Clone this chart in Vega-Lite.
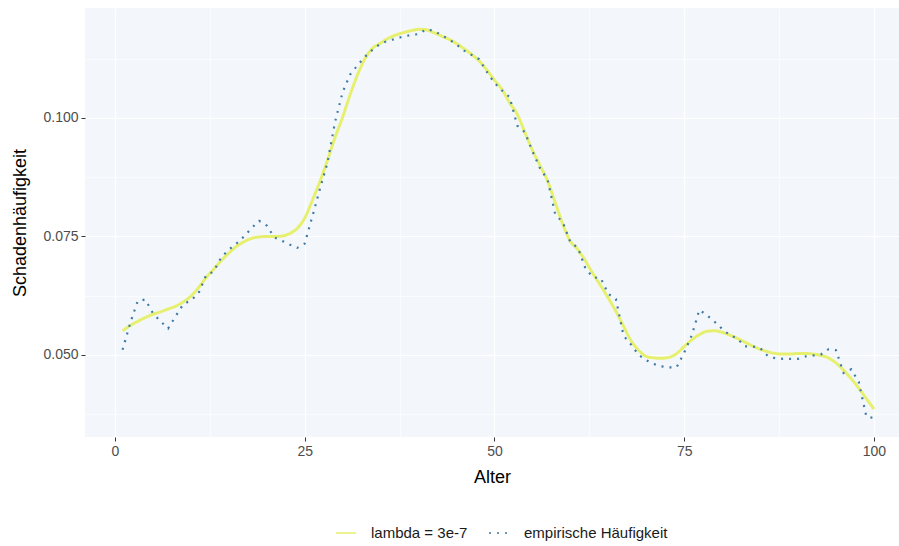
{
  "$schema": "https://vega.github.io/schema/vega-lite/v6.json",
  "autosize": {"type": "none"},
  "padding": {"left": 85, "top": 8, "right": 0, "bottom": 109},
  "width": 814,
  "height": 429,
  "background": "white",
  "config": {
    "font": "Liberation Sans",
    "view": {"fill": "#F3F7FC", "stroke": null},
    "axis": {
      "domain": false,
      "gridColor": "white",
      "gridOpacity": 1,
      "tickColor": "#333333",
      "tickSize": 4,
      "labelColor": "#4D4D4D",
      "labelFontSize": 14,
      "labelFont": "Liberation Sans",
      "titleFont": "Liberation Sans",
      "titleFontSize": 18,
      "titleFontWeight": "normal",
      "titleColor": "black"
    }
  },
  "datasets": {
    "smooth": [
      {"Alter":1,"Wert":0.0551,"Reihe":"lambda = 3e-7"},{"Alter":2,"Wert":0.0562,"Reihe":"lambda = 3e-7"},{"Alter":3,"Wert":0.0571,"Reihe":"lambda = 3e-7"},{"Alter":4,"Wert":0.0579,"Reihe":"lambda = 3e-7"},{"Alter":5,"Wert":0.0586,"Reihe":"lambda = 3e-7"},
      {"Alter":6,"Wert":0.0591,"Reihe":"lambda = 3e-7"},{"Alter":7,"Wert":0.0597,"Reihe":"lambda = 3e-7"},{"Alter":8,"Wert":0.0603,"Reihe":"lambda = 3e-7"},{"Alter":9,"Wert":0.0612,"Reihe":"lambda = 3e-7"},{"Alter":10,"Wert":0.0624,"Reihe":"lambda = 3e-7"},
      {"Alter":11,"Wert":0.0642,"Reihe":"lambda = 3e-7"},{"Alter":12,"Wert":0.0663,"Reihe":"lambda = 3e-7"},{"Alter":13,"Wert":0.0681,"Reihe":"lambda = 3e-7"},{"Alter":14,"Wert":0.0699,"Reihe":"lambda = 3e-7"},{"Alter":15,"Wert":0.0715,"Reihe":"lambda = 3e-7"},
      {"Alter":16,"Wert":0.0729,"Reihe":"lambda = 3e-7"},{"Alter":17,"Wert":0.0739,"Reihe":"lambda = 3e-7"},{"Alter":18,"Wert":0.0746,"Reihe":"lambda = 3e-7"},{"Alter":19,"Wert":0.0749,"Reihe":"lambda = 3e-7"},{"Alter":20,"Wert":0.0750,"Reihe":"lambda = 3e-7"},
      {"Alter":21,"Wert":0.0750,"Reihe":"lambda = 3e-7"},{"Alter":22,"Wert":0.0751,"Reihe":"lambda = 3e-7"},{"Alter":23,"Wert":0.0756,"Reihe":"lambda = 3e-7"},{"Alter":24,"Wert":0.0767,"Reihe":"lambda = 3e-7"},{"Alter":25,"Wert":0.0789,"Reihe":"lambda = 3e-7"},
      {"Alter":26,"Wert":0.0826,"Reihe":"lambda = 3e-7"},{"Alter":27,"Wert":0.0866,"Reihe":"lambda = 3e-7"},{"Alter":28,"Wert":0.0911,"Reihe":"lambda = 3e-7"},{"Alter":29,"Wert":0.0959,"Reihe":"lambda = 3e-7"},{"Alter":30,"Wert":0.1002,"Reihe":"lambda = 3e-7"},
      {"Alter":31,"Wert":0.1050,"Reihe":"lambda = 3e-7"},{"Alter":32,"Wert":0.1093,"Reihe":"lambda = 3e-7"},{"Alter":33,"Wert":0.1127,"Reihe":"lambda = 3e-7"},{"Alter":34,"Wert":0.1148,"Reihe":"lambda = 3e-7"},{"Alter":35,"Wert":0.1158,"Reihe":"lambda = 3e-7"},
      {"Alter":36,"Wert":0.1168,"Reihe":"lambda = 3e-7"},{"Alter":37,"Wert":0.1175,"Reihe":"lambda = 3e-7"},{"Alter":38,"Wert":0.1180,"Reihe":"lambda = 3e-7"},{"Alter":39,"Wert":0.1184,"Reihe":"lambda = 3e-7"},{"Alter":40,"Wert":0.1187,"Reihe":"lambda = 3e-7"},
      {"Alter":41,"Wert":0.1186,"Reihe":"lambda = 3e-7"},{"Alter":42,"Wert":0.1180,"Reihe":"lambda = 3e-7"},{"Alter":43,"Wert":0.1173,"Reihe":"lambda = 3e-7"},{"Alter":44,"Wert":0.1166,"Reihe":"lambda = 3e-7"},{"Alter":45,"Wert":0.1157,"Reihe":"lambda = 3e-7"},
      {"Alter":46,"Wert":0.1146,"Reihe":"lambda = 3e-7"},{"Alter":47,"Wert":0.1134,"Reihe":"lambda = 3e-7"},{"Alter":48,"Wert":0.1120,"Reihe":"lambda = 3e-7"},{"Alter":49,"Wert":0.1101,"Reihe":"lambda = 3e-7"},{"Alter":50,"Wert":0.1080,"Reihe":"lambda = 3e-7"},
      {"Alter":51,"Wert":0.1060,"Reihe":"lambda = 3e-7"},{"Alter":52,"Wert":0.1032,"Reihe":"lambda = 3e-7"},{"Alter":53,"Wert":0.1008,"Reihe":"lambda = 3e-7"},{"Alter":54,"Wert":0.0970,"Reihe":"lambda = 3e-7"},{"Alter":55,"Wert":0.0932,"Reihe":"lambda = 3e-7"},
      {"Alter":56,"Wert":0.0900,"Reihe":"lambda = 3e-7"},{"Alter":57,"Wert":0.0867,"Reihe":"lambda = 3e-7"},{"Alter":58,"Wert":0.0822,"Reihe":"lambda = 3e-7"},{"Alter":59,"Wert":0.0776,"Reihe":"lambda = 3e-7"},{"Alter":60,"Wert":0.0740,"Reihe":"lambda = 3e-7"},
      {"Alter":61,"Wert":0.0722,"Reihe":"lambda = 3e-7"},{"Alter":62,"Wert":0.0698,"Reihe":"lambda = 3e-7"},{"Alter":63,"Wert":0.0671,"Reihe":"lambda = 3e-7"},{"Alter":64,"Wert":0.0646,"Reihe":"lambda = 3e-7"},{"Alter":65,"Wert":0.0620,"Reihe":"lambda = 3e-7"},
      {"Alter":66,"Wert":0.0592,"Reihe":"lambda = 3e-7"},{"Alter":67,"Wert":0.0561,"Reihe":"lambda = 3e-7"},{"Alter":68,"Wert":0.0530,"Reihe":"lambda = 3e-7"},{"Alter":69,"Wert":0.0510,"Reihe":"lambda = 3e-7"},{"Alter":70,"Wert":0.0497,"Reihe":"lambda = 3e-7"},
      {"Alter":71,"Wert":0.0494,"Reihe":"lambda = 3e-7"},{"Alter":72,"Wert":0.0493,"Reihe":"lambda = 3e-7"},{"Alter":73,"Wert":0.0495,"Reihe":"lambda = 3e-7"},{"Alter":74,"Wert":0.0503,"Reihe":"lambda = 3e-7"},{"Alter":75,"Wert":0.0518,"Reihe":"lambda = 3e-7"},
      {"Alter":76,"Wert":0.0532,"Reihe":"lambda = 3e-7"},{"Alter":77,"Wert":0.0543,"Reihe":"lambda = 3e-7"},{"Alter":78,"Wert":0.0550,"Reihe":"lambda = 3e-7"},{"Alter":79,"Wert":0.0551,"Reihe":"lambda = 3e-7"},{"Alter":80,"Wert":0.0548,"Reihe":"lambda = 3e-7"},
      {"Alter":81,"Wert":0.0542,"Reihe":"lambda = 3e-7"},{"Alter":82,"Wert":0.0535,"Reihe":"lambda = 3e-7"},{"Alter":83,"Wert":0.0527,"Reihe":"lambda = 3e-7"},{"Alter":84,"Wert":0.0519,"Reihe":"lambda = 3e-7"},{"Alter":85,"Wert":0.0512,"Reihe":"lambda = 3e-7"},
      {"Alter":86,"Wert":0.0507,"Reihe":"lambda = 3e-7"},{"Alter":87,"Wert":0.0503,"Reihe":"lambda = 3e-7"},{"Alter":88,"Wert":0.0502,"Reihe":"lambda = 3e-7"},{"Alter":89,"Wert":0.0502,"Reihe":"lambda = 3e-7"},{"Alter":90,"Wert":0.0503,"Reihe":"lambda = 3e-7"},
      {"Alter":91,"Wert":0.0503,"Reihe":"lambda = 3e-7"},{"Alter":92,"Wert":0.0502,"Reihe":"lambda = 3e-7"},{"Alter":93,"Wert":0.0499,"Reihe":"lambda = 3e-7"},{"Alter":94,"Wert":0.0494,"Reihe":"lambda = 3e-7"},{"Alter":95,"Wert":0.0483,"Reihe":"lambda = 3e-7"},
      {"Alter":96,"Wert":0.0468,"Reihe":"lambda = 3e-7"},{"Alter":97,"Wert":0.0450,"Reihe":"lambda = 3e-7"},{"Alter":98,"Wert":0.0430,"Reihe":"lambda = 3e-7"},{"Alter":99,"Wert":0.0408,"Reihe":"lambda = 3e-7"},{"Alter":100,"Wert":0.0386,"Reihe":"lambda = 3e-7"}
    ],
    "emp": [
      {"Alter":1,"Wert":0.0511,"Reihe":"empirische Häufigkeit"},{"Alter":2,"Wert":0.0567,"Reihe":"empirische Häufigkeit"},{"Alter":3,"Wert":0.0614,"Reihe":"empirische Häufigkeit"},{"Alter":4,"Wert":0.0617,"Reihe":"empirische Häufigkeit"},{"Alter":5,"Wert":0.0588,"Reihe":"empirische Häufigkeit"},
      {"Alter":6,"Wert":0.0571,"Reihe":"empirische Häufigkeit"},{"Alter":7,"Wert":0.0556,"Reihe":"empirische Häufigkeit"},{"Alter":8,"Wert":0.0582,"Reihe":"empirische Häufigkeit"},{"Alter":9,"Wert":0.0607,"Reihe":"empirische Häufigkeit"},{"Alter":10,"Wert":0.0615,"Reihe":"empirische Häufigkeit"},
      {"Alter":11,"Wert":0.0630,"Reihe":"empirische Häufigkeit"},{"Alter":12,"Wert":0.0668,"Reihe":"empirische Häufigkeit"},{"Alter":13,"Wert":0.0676,"Reihe":"empirische Häufigkeit"},{"Alter":14,"Wert":0.0706,"Reihe":"empirische Häufigkeit"},{"Alter":15,"Wert":0.0722,"Reihe":"empirische Häufigkeit"},
      {"Alter":16,"Wert":0.0735,"Reihe":"empirische Häufigkeit"},{"Alter":17,"Wert":0.0750,"Reihe":"empirische Häufigkeit"},{"Alter":18,"Wert":0.0768,"Reihe":"empirische Häufigkeit"},{"Alter":19,"Wert":0.0783,"Reihe":"empirische Häufigkeit"},{"Alter":20,"Wert":0.0773,"Reihe":"empirische Häufigkeit"},
      {"Alter":21,"Wert":0.0748,"Reihe":"empirische Häufigkeit"},{"Alter":22,"Wert":0.0741,"Reihe":"empirische Häufigkeit"},{"Alter":23,"Wert":0.0733,"Reihe":"empirische Häufigkeit"},{"Alter":24,"Wert":0.0726,"Reihe":"empirische Häufigkeit"},{"Alter":25,"Wert":0.0735,"Reihe":"empirische Häufigkeit"},
      {"Alter":26,"Wert":0.0792,"Reihe":"empirische Häufigkeit"},{"Alter":27,"Wert":0.0850,"Reihe":"empirische Häufigkeit"},{"Alter":28,"Wert":0.0906,"Reihe":"empirische Häufigkeit"},{"Alter":29,"Wert":0.0992,"Reihe":"empirische Häufigkeit"},{"Alter":30,"Wert":0.1055,"Reihe":"empirische Häufigkeit"},
      {"Alter":31,"Wert":0.1092,"Reihe":"empirische Häufigkeit"},{"Alter":32,"Wert":0.1112,"Reihe":"empirische Häufigkeit"},{"Alter":33,"Wert":0.1130,"Reihe":"empirische Häufigkeit"},{"Alter":34,"Wert":0.1145,"Reihe":"empirische Häufigkeit"},{"Alter":35,"Wert":0.1157,"Reihe":"empirische Häufigkeit"},
      {"Alter":36,"Wert":0.1163,"Reihe":"empirische Häufigkeit"},{"Alter":37,"Wert":0.1167,"Reihe":"empirische Häufigkeit"},{"Alter":38,"Wert":0.1172,"Reihe":"empirische Häufigkeit"},{"Alter":39,"Wert":0.1175,"Reihe":"empirische Häufigkeit"},{"Alter":40,"Wert":0.1177,"Reihe":"empirische Häufigkeit"},
      {"Alter":41,"Wert":0.1187,"Reihe":"empirische Häufigkeit"},{"Alter":42,"Wert":0.1184,"Reihe":"empirische Häufigkeit"},{"Alter":43,"Wert":0.1175,"Reihe":"empirische Häufigkeit"},{"Alter":44,"Wert":0.1166,"Reihe":"empirische Häufigkeit"},{"Alter":45,"Wert":0.1155,"Reihe":"empirische Häufigkeit"},
      {"Alter":46,"Wert":0.1142,"Reihe":"empirische Häufigkeit"},{"Alter":47,"Wert":0.1133,"Reihe":"empirische Häufigkeit"},{"Alter":48,"Wert":0.1124,"Reihe":"empirische Häufigkeit"},{"Alter":49,"Wert":0.1097,"Reihe":"empirische Häufigkeit"},{"Alter":50,"Wert":0.1074,"Reihe":"empirische Häufigkeit"},
      {"Alter":51,"Wert":0.1058,"Reihe":"empirische Häufigkeit"},{"Alter":52,"Wert":0.1044,"Reihe":"empirische Häufigkeit"},{"Alter":53,"Wert":0.0984,"Reihe":"empirische Häufigkeit"},{"Alter":54,"Wert":0.0970,"Reihe":"empirische Häufigkeit"},{"Alter":55,"Wert":0.0930,"Reihe":"empirische Häufigkeit"},
      {"Alter":56,"Wert":0.0894,"Reihe":"empirische Häufigkeit"},{"Alter":57,"Wert":0.0870,"Reihe":"empirische Häufigkeit"},{"Alter":58,"Wert":0.0797,"Reihe":"empirische Häufigkeit"},{"Alter":59,"Wert":0.0780,"Reihe":"empirische Häufigkeit"},{"Alter":60,"Wert":0.0738,"Reihe":"empirische Häufigkeit"},
      {"Alter":61,"Wert":0.0726,"Reihe":"empirische Häufigkeit"},{"Alter":62,"Wert":0.0682,"Reihe":"empirische Häufigkeit"},{"Alter":63,"Wert":0.0664,"Reihe":"empirische Häufigkeit"},{"Alter":64,"Wert":0.0662,"Reihe":"empirische Häufigkeit"},{"Alter":65,"Wert":0.0629,"Reihe":"empirische Häufigkeit"},
      {"Alter":66,"Wert":0.0618,"Reihe":"empirische Häufigkeit"},{"Alter":67,"Wert":0.0541,"Reihe":"empirische Häufigkeit"},{"Alter":68,"Wert":0.0522,"Reihe":"empirische Häufigkeit"},{"Alter":69,"Wert":0.0500,"Reihe":"empirische Häufigkeit"},{"Alter":70,"Wert":0.0489,"Reihe":"empirische Häufigkeit"},
      {"Alter":71,"Wert":0.0481,"Reihe":"empirische Häufigkeit"},{"Alter":72,"Wert":0.0476,"Reihe":"empirische Häufigkeit"},{"Alter":73,"Wert":0.0474,"Reihe":"empirische Häufigkeit"},{"Alter":74,"Wert":0.0474,"Reihe":"empirische Häufigkeit"},{"Alter":75,"Wert":0.0505,"Reihe":"empirische Häufigkeit"},
      {"Alter":76,"Wert":0.0542,"Reihe":"empirische Häufigkeit"},{"Alter":77,"Wert":0.0595,"Reihe":"empirische Häufigkeit"},{"Alter":78,"Wert":0.0584,"Reihe":"empirische Häufigkeit"},{"Alter":79,"Wert":0.0570,"Reihe":"empirische Häufigkeit"},{"Alter":80,"Wert":0.0555,"Reihe":"empirische Häufigkeit"},
      {"Alter":81,"Wert":0.0542,"Reihe":"empirische Häufigkeit"},{"Alter":82,"Wert":0.0535,"Reihe":"empirische Häufigkeit"},{"Alter":83,"Wert":0.0518,"Reihe":"empirische Häufigkeit"},{"Alter":84,"Wert":0.0518,"Reihe":"empirische Häufigkeit"},{"Alter":85,"Wert":0.0515,"Reihe":"empirische Häufigkeit"},
      {"Alter":86,"Wert":0.0498,"Reihe":"empirische Häufigkeit"},{"Alter":87,"Wert":0.0493,"Reihe":"empirische Häufigkeit"},{"Alter":88,"Wert":0.0492,"Reihe":"empirische Häufigkeit"},{"Alter":89,"Wert":0.0492,"Reihe":"empirische Häufigkeit"},{"Alter":90,"Wert":0.0492,"Reihe":"empirische Häufigkeit"},
      {"Alter":91,"Wert":0.0497,"Reihe":"empirische Häufigkeit"},{"Alter":92,"Wert":0.0499,"Reihe":"empirische Häufigkeit"},{"Alter":93,"Wert":0.0501,"Reihe":"empirische Häufigkeit"},{"Alter":94,"Wert":0.0512,"Reihe":"empirische Häufigkeit"},{"Alter":95,"Wert":0.0510,"Reihe":"empirische Häufigkeit"},
      {"Alter":96,"Wert":0.0462,"Reihe":"empirische Häufigkeit"},{"Alter":97,"Wert":0.0470,"Reihe":"empirische Häufigkeit"},{"Alter":98,"Wert":0.0443,"Reihe":"empirische Häufigkeit"},{"Alter":99,"Wert":0.0370,"Reihe":"empirische Häufigkeit"},{"Alter":100,"Wert":0.0367,"Reihe":"empirische Häufigkeit"}
    ]
  },
  "encoding": {
    "x": {
      "field": "Alter", "type": "quantitative",
      "scale": {"domain": [-3.95, 103.3], "nice": false, "zero": false},
      "axis": {
        "title": "Alter",
        "titleFontWeight": "normal",
        "titleFontSize": 18,
        "values": [0, 12.5, 25, 37.5, 50, 62.5, 75, 87.5, 100],
        "labelExpr": "datum.value % 25 == 0 ? datum.label : ''",
        "labelPadding": 3,
        "titlePadding": 10,
        "gridWidth": {"condition": {"test": "datum.value % 25 != 0", "value": 0.6}, "value": 1.2},
        "tickOpacity": {"condition": {"test": "datum.value % 25 != 0", "value": 0}, "value": 1}
      }
    },
    "y": {
      "field": "Wert", "type": "quantitative",
      "scale": {"domain": [0.0327, 0.1232], "nice": false, "zero": false},
      "axis": {
        "title": "Schadenhäufigkeit",
        "titleFontWeight": "normal",
        "titleFontSize": 18,
        "values": [0.0375, 0.05, 0.0625, 0.075, 0.0875, 0.1, 0.1125],
        "format": ".3f",
        "labelExpr": "abs(datum.value * 40 - round(datum.value * 40)) < 0.001 ? datum.label : ''",
        "labelPadding": 3,
        "titlePadding": 13,
        "gridWidth": {"condition": {"test": "abs(datum.value * 40 - round(datum.value * 40)) > 0.001", "value": 0.6}, "value": 1.2},
        "tickOpacity": {"condition": {"test": "abs(datum.value * 40 - round(datum.value * 40)) > 0.001", "value": 0}, "value": 1}
      }
    },
    "color": {
      "field": "Reihe", "type": "nominal",
      "scale": {"domain": ["lambda = 3e-7", "empirische Häufigkeit"], "range": ["#E6F06E", "#3F7AA6"]},
      "legend": {
        "title": null,
        "orient": "none",
        "direction": "horizontal",
        "legendX": 250,
        "legendY": 514,
        "symbolType": "stroke",
        "symbolSize": 400,
        "labelFontSize": 15,
        "labelColor": "#1A1A1A",
        "labelFont": "Liberation Sans",
        "labelOffset": 14,
        "columnPadding": 18,
        "labelLimit": 300
      }
    },
    "strokeDash": {
      "field": "Reihe", "type": "nominal",
      "scale": {"domain": ["lambda = 3e-7", "empirische Häufigkeit"], "range": [[1, 0], [2, 6]]},
      "legend": null
    }
  },
  "layer": [
    {"data": {"name": "smooth"}, "mark": {"type": "line", "strokeWidth": 3, "interpolate": "monotone"}},
    {"data": {"name": "emp"}, "mark": {"type": "line", "strokeWidth": 2.2}}
  ]
}
